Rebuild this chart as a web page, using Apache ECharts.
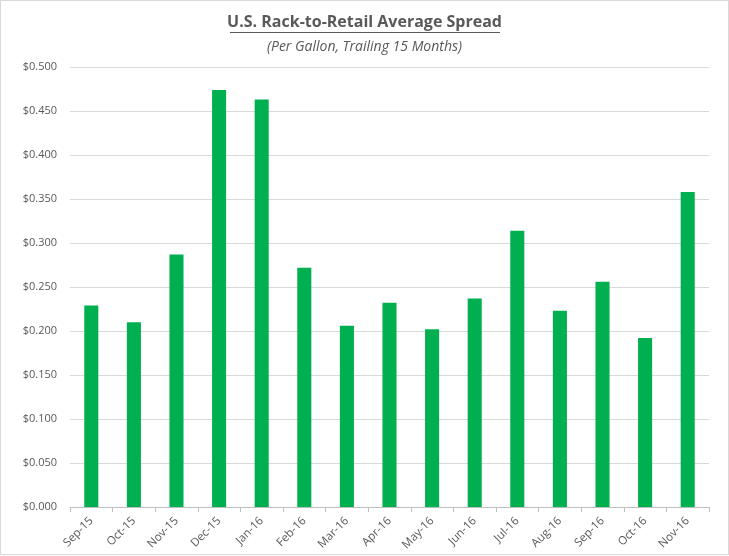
<!DOCTYPE html>
<html>
<head>
<meta charset="utf-8">
<script src="https://cdn.jsdelivr.net/npm/echarts@6/dist/echarts.min.js"></script>
<style>
html,body{margin:0;padding:0;background:#fff;}
#chart{position:absolute;left:0;top:0;width:727px;height:553px;border:1px solid #d9d9d9;}
</style>
</head>
<body>
<div id="chart"></div>
<script>
const categories = ["Sep-15","Oct-15","Nov-15","Dec-15","Jan-16","Feb-16","Mar-16","Apr-16","May-16","Jun-16","Jul-16","Aug-16","Sep-16","Oct-16","Nov-16"];
const spread = [0.229,0.210,0.287,0.474,0.463,0.272,0.206,0.232,0.202,0.237,0.314,0.223,0.256,0.192,0.358];
const titleText = "U.S. Rack-to-Retail Average Spread";
const subtitleText = "(Per Gallon, Trailing 15 Months)";

const chart = echarts.init(document.getElementById('chart'));
chart.setOption({
  animation:false,
  title:[{
    text:titleText,
    left:'center',
    top:8,
    textStyle:{fontFamily:'Open Sans',fontWeight:'bold',fontSize:16,color:'#595959'}
  },{
    text:subtitleText,
    left:'center',
    top:34,
    textStyle:{fontFamily:'Open Sans',fontStyle:'italic',fontWeight:'normal',fontSize:14,color:'#595959'}
  }],
  graphic:[{
    type:'line',
    shape:{x1:229,y1:31.5,x2:499,y2:31.5},
    style:{stroke:'#595959',lineWidth:1}
  }],
  grid:{left:69,right:19,top:66,bottom:47},
  xAxis:{
    type:'category',
    data:categories,
    axisLine:{lineStyle:{color:'#bfbfbf'}},
    axisTick:{show:true,length:5,lineStyle:{color:'#bfbfbf'}},
    axisLabel:{rotate:45,fontSize:11.5,color:'#595959',fontFamily:'Open Sans',margin:12}
  },
  yAxis:{
    type:'value',
    min:0,max:0.5,interval:0.05,
    axisLine:{show:false},
    axisTick:{show:false},
    splitLine:{lineStyle:{color:'#d9d9d9'}},
    axisLabel:{fontSize:11,color:'#595959',fontFamily:'Open Sans',margin:13,
      formatter:v=>'$'+v.toFixed(3)}
  },
  series:[{
    type:'bar',
    data:spread,
    barWidth:'33%',
    itemStyle:{color:'#00b050'}
  }]
});
</script>
</body>
</html>
